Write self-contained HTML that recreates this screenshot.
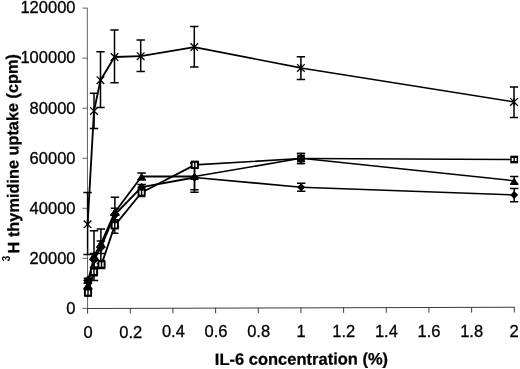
<!DOCTYPE html>
<html><head><meta charset="utf-8"><title>chart</title>
<style>html,body{margin:0;padding:0;background:#fff}svg{display:block}</style></head>
<body><svg width="520" height="369" viewBox="0 0 520 369">
<rect width="520" height="369" fill="#fff"/>
<path d="M87.30,8.1L87.6,308.4" fill="none" stroke="#505050" stroke-width="0.9"/>
<path d="M87.2,308.4L514.4,307.30" fill="none" stroke="#3c3c3c" stroke-width="1.05"/>
<path d="M82.4,8.10H87.60" stroke="#505050" stroke-width="0.9"/>
<path d="M82.4,58.15H87.65" stroke="#505050" stroke-width="0.9"/>
<path d="M82.4,108.20H87.70" stroke="#505050" stroke-width="0.9"/>
<path d="M82.4,158.25H87.75" stroke="#505050" stroke-width="0.9"/>
<path d="M82.4,208.30H87.80" stroke="#505050" stroke-width="0.9"/>
<path d="M82.4,258.35H87.85" stroke="#505050" stroke-width="0.9"/>
<path d="M82.4,308.40H87.90" stroke="#505050" stroke-width="0.9"/>
<path d="M87.60,308.10V313.60" stroke="#3c3c3c" stroke-width="1"/>
<path d="M130.27,307.99V313.49" stroke="#3c3c3c" stroke-width="1"/>
<path d="M172.94,307.88V313.38" stroke="#3c3c3c" stroke-width="1"/>
<path d="M215.61,307.77V313.27" stroke="#3c3c3c" stroke-width="1"/>
<path d="M258.28,307.66V313.16" stroke="#3c3c3c" stroke-width="1"/>
<path d="M300.95,307.55V313.05" stroke="#3c3c3c" stroke-width="1"/>
<path d="M343.62,307.44V312.94" stroke="#3c3c3c" stroke-width="1"/>
<path d="M386.29,307.33V312.83" stroke="#3c3c3c" stroke-width="1"/>
<path d="M428.96,307.22V312.72" stroke="#3c3c3c" stroke-width="1"/>
<path d="M471.63,307.11V312.61" stroke="#3c3c3c" stroke-width="1"/>
<path d="M514.30,307.00V312.50" stroke="#3c3c3c" stroke-width="1"/>
<path d="M87.6,224.3L94.0,111.0" fill="none" stroke="#000" stroke-width="1.85" stroke-linecap="round"/>
<path d="M94.0,111.0L100.5,80.2" fill="none" stroke="#000" stroke-width="1.85" stroke-linecap="round"/>
<path d="M100.5,80.2L114.5,57.0" fill="none" stroke="#000" stroke-width="1.85" stroke-linecap="round"/>
<path d="M114.5,57.0L140.7,56.2" fill="none" stroke="#000" stroke-width="1.85" stroke-linecap="round"/>
<path d="M140.7,56.2L194.3,47.1" fill="none" stroke="#000" stroke-width="1.85" stroke-linecap="round"/>
<path d="M194.3,47.1L300.9,67.9" fill="none" stroke="#000" stroke-width="1.65" stroke-linecap="round"/>
<path d="M300.9,67.9L514.0,101.9" fill="none" stroke="#000" stroke-width="1.5" stroke-linecap="round"/>
<path d="M88.0,292.5L94.0,271.8" fill="none" stroke="#000" stroke-width="1.85" stroke-linecap="round"/>
<path d="M94.0,271.8L101.5,264.5" fill="none" stroke="#000" stroke-width="1.85" stroke-linecap="round"/>
<path d="M101.5,264.5L114.8,225.4" fill="none" stroke="#000" stroke-width="1.85" stroke-linecap="round"/>
<path d="M114.8,225.4L141.6,192.5" fill="none" stroke="#000" stroke-width="1.85" stroke-linecap="round"/>
<path d="M141.6,192.5L194.8,164.9" fill="none" stroke="#000" stroke-width="1.85" stroke-linecap="round"/>
<path d="M194.8,164.9L301.0,158.5" fill="none" stroke="#000" stroke-width="1.65" stroke-linecap="round"/>
<path d="M301.0,158.5L514.2,159.5" fill="none" stroke="#000" stroke-width="1.5" stroke-linecap="round"/>
<path d="M87.9,285.8L94.0,256.0" fill="none" stroke="#000" stroke-width="1.85" stroke-linecap="round"/>
<path d="M94.0,256.0L100.9,243.8" fill="none" stroke="#000" stroke-width="1.85" stroke-linecap="round"/>
<path d="M100.9,243.8L114.9,212.2" fill="none" stroke="#000" stroke-width="1.85" stroke-linecap="round"/>
<path d="M114.9,212.2L141.6,176.5" fill="none" stroke="#000" stroke-width="1.85" stroke-linecap="round"/>
<path d="M141.6,176.5L194.5,176.5" fill="none" stroke="#000" stroke-width="1.85" stroke-linecap="round"/>
<path d="M194.5,176.5L301.0,158.3" fill="none" stroke="#000" stroke-width="1.65" stroke-linecap="round"/>
<path d="M301.0,158.3L514.2,180.8" fill="none" stroke="#000" stroke-width="1.5" stroke-linecap="round"/>
<path d="M87.9,280.4L94.0,259.8" fill="none" stroke="#000" stroke-width="1.85" stroke-linecap="round"/>
<path d="M94.0,259.8L100.9,247.2" fill="none" stroke="#000" stroke-width="1.85" stroke-linecap="round"/>
<path d="M100.9,247.2L114.9,214.5" fill="none" stroke="#000" stroke-width="1.85" stroke-linecap="round"/>
<path d="M114.9,214.5L141.6,187.2" fill="none" stroke="#000" stroke-width="1.85" stroke-linecap="round"/>
<path d="M141.6,187.2L194.5,177.5" fill="none" stroke="#000" stroke-width="1.85" stroke-linecap="round"/>
<path d="M194.5,177.5L301.2,187.2" fill="none" stroke="#000" stroke-width="1.65" stroke-linecap="round"/>
<path d="M301.2,187.2L514.2,195.0" fill="none" stroke="#000" stroke-width="1.5" stroke-linecap="round"/>
<path d="M87.6,192.6V254.6M83.4,192.6H91.8M83.4,254.6H91.8" stroke="#000" stroke-width="1.5" fill="none"/>
<path d="M94.0,93.2V128.5M89.8,93.2H98.2M89.8,128.5H98.2" stroke="#000" stroke-width="1.5" fill="none"/>
<path d="M100.5,51.8V107.6M96.3,51.8H104.7M96.3,107.6H104.7" stroke="#000" stroke-width="1.5" fill="none"/>
<path d="M114.5,30.0V82.7M110.3,30.0H118.7M110.3,82.7H118.7" stroke="#000" stroke-width="1.5" fill="none"/>
<path d="M140.7,40.0V71.5M136.5,40.0H144.9M136.5,71.5H144.9" stroke="#000" stroke-width="1.5" fill="none"/>
<path d="M194.3,26.6V66.9M190.1,26.6H198.5M190.1,66.9H198.5" stroke="#000" stroke-width="1.5" fill="none"/>
<path d="M300.9,56.7V79.4M296.7,56.7H305.1M296.7,79.4H305.1" stroke="#000" stroke-width="1.5" fill="none"/>
<path d="M514.0,86.9V117.6M509.8,86.9H518.2M509.8,117.6H518.2" stroke="#000" stroke-width="1.5" fill="none"/>
<path d="M87.9,283.3V288.2M83.7,283.3H92.1M83.7,288.2H92.1" stroke="#000" stroke-width="1.5" fill="none"/>
<path d="M94.0,230.8V280.5M89.8,230.8H98.2M89.8,280.5H98.2" stroke="#000" stroke-width="1.5" fill="none"/>
<path d="M100.9,229.0V263.5M96.7,229.0H105.1M96.7,263.5H105.1" stroke="#000" stroke-width="1.5" fill="none"/>
<path d="M114.9,197.3V227.0M110.7,197.3H119.1M110.7,227.0H119.1" stroke="#000" stroke-width="1.5" fill="none"/>
<path d="M141.6,172.9V180.0M137.4,172.9H145.8M137.4,180.0H145.8" stroke="#000" stroke-width="1.5" fill="none"/>
<path d="M194.5,163.0V189.8M190.3,163.0H198.7M190.3,189.8H198.7" stroke="#000" stroke-width="1.5" fill="none"/>
<path d="M301.0,153.4V163.6M296.8,153.4H305.2M296.8,163.6H305.2" stroke="#000" stroke-width="1.5" fill="none"/>
<path d="M514.2,176.6V184.2M510.0,176.6H518.4M510.0,184.2H518.4" stroke="#000" stroke-width="1.5" fill="none"/>
<path d="M87.9,278.3V283.0M83.7,278.3H92.1M83.7,283.0H92.1" stroke="#000" stroke-width="1.5" fill="none"/>
<path d="M94.0,253.5V267.0M89.8,253.5H98.2M89.8,267.0H98.2" stroke="#000" stroke-width="1.5" fill="none"/>
<path d="M100.9,241.0V253.5M96.7,241.0H105.1M96.7,253.5H105.1" stroke="#000" stroke-width="1.5" fill="none"/>
<path d="M114.9,208.3V221.0M110.7,208.3H119.1M110.7,221.0H119.1" stroke="#000" stroke-width="1.5" fill="none"/>
<path d="M141.6,184.5V190.0M137.4,184.5H145.8M137.4,190.0H145.8" stroke="#000" stroke-width="1.5" fill="none"/>
<path d="M194.5,163.0V192.2M190.3,163.0H198.7M190.3,192.2H198.7" stroke="#000" stroke-width="1.5" fill="none"/>
<path d="M301.2,183.2V191.2M297.0,183.2H305.4M297.0,191.2H305.4" stroke="#000" stroke-width="1.5" fill="none"/>
<path d="M514.2,188.4V201.8M510.0,188.4H518.4M510.0,201.8H518.4" stroke="#000" stroke-width="1.5" fill="none"/>
<path d="M83.8,220.5L91.39999999999999,228.10000000000002M83.8,228.10000000000002L91.39999999999999,220.5M87.6,220.5V228.10000000000002" stroke="#000" stroke-width="1.3" fill="none"/>
<path d="M90.2,107.2L97.8,114.8M90.2,114.8L97.8,107.2M94,107.2V114.8" stroke="#000" stroke-width="1.3" fill="none"/>
<path d="M96.7,76.4L104.3,84.0M96.7,84.0L104.3,76.4M100.5,76.4V84.0" stroke="#000" stroke-width="1.3" fill="none"/>
<path d="M110.7,53.2L118.3,60.8M110.7,60.8L118.3,53.2M114.5,53.2V60.8" stroke="#000" stroke-width="1.3" fill="none"/>
<path d="M136.89999999999998,52.400000000000006L144.5,60.0M136.89999999999998,60.0L144.5,52.400000000000006M140.7,52.400000000000006V60.0" stroke="#000" stroke-width="1.3" fill="none"/>
<path d="M190.5,43.300000000000004L198.10000000000002,50.9M190.5,50.9L198.10000000000002,43.300000000000004M194.3,43.300000000000004V50.9" stroke="#000" stroke-width="1.3" fill="none"/>
<path d="M297.09999999999997,64.10000000000001L304.7,71.7M297.09999999999997,71.7L304.7,64.10000000000001M300.9,64.10000000000001V71.7" stroke="#000" stroke-width="1.3" fill="none"/>
<path d="M510.2,98.10000000000001L517.8,105.7M510.2,105.7L517.8,98.10000000000001M514.0,98.10000000000001V105.7" stroke="#000" stroke-width="1.3" fill="none"/>
<rect x="84.90" y="289.40" width="6.20" height="6.20" fill="#fff" stroke="#000" stroke-width="1.9"/>
<rect x="90.90" y="268.70" width="6.20" height="6.20" fill="#fff" stroke="#000" stroke-width="1.9"/>
<rect x="98.40" y="261.40" width="6.20" height="6.20" fill="#fff" stroke="#000" stroke-width="1.9"/>
<rect x="111.70" y="222.30" width="6.20" height="6.20" fill="#fff" stroke="#000" stroke-width="1.9"/>
<rect x="138.50" y="189.40" width="6.20" height="6.20" fill="#fff" stroke="#000" stroke-width="1.9"/>
<rect x="191.70" y="161.80" width="6.20" height="6.20" fill="#fff" stroke="#000" stroke-width="1.9"/>
<rect x="298.35" y="155.85" width="5.30" height="5.30" fill="#fff" stroke="#000" stroke-width="2.4"/>
<rect x="511.05" y="156.35" width="6.30" height="6.30" fill="#fff" stroke="#000" stroke-width="1.4"/>
<path d="M88.0,289.5V296.0M84.4,289.5H91.6M84.4,296.0H91.6" stroke="#000" stroke-width="1.4" fill="none"/>
<path d="M94.0,268.0V275.8M90.4,268.0H97.6M90.4,275.8H97.6" stroke="#000" stroke-width="1.4" fill="none"/>
<path d="M101.5,260.5V268.5M97.9,260.5H105.1M97.9,268.5H105.1" stroke="#000" stroke-width="1.4" fill="none"/>
<path d="M114.8,219.8V233.2M111.2,219.8H118.4M111.2,233.2H118.4" stroke="#000" stroke-width="1.4" fill="none"/>
<path d="M141.6,188.5V196.5M138.0,188.5H145.2M138.0,196.5H145.2" stroke="#000" stroke-width="1.4" fill="none"/>
<path d="M194.8,161.5V168.3M191.2,161.5H198.4M191.2,168.3H198.4" stroke="#000" stroke-width="1.4" fill="none"/>
<path d="M301.0,153.4V163.6M297.4,153.4H304.6M297.4,163.6H304.6" stroke="#000" stroke-width="1.4" fill="none"/>
<path d="M514.2,157.3V161.7M510.6,157.3H517.8M510.6,161.7H517.8" stroke="#000" stroke-width="1.4" fill="none"/>
<path d="M87.9,282.15L92.29,289.24H83.51Z" fill="#000" stroke="#000" stroke-width="0.9" stroke-linejoin="round"/>
<path d="M94,252.34L98.39,259.44H89.61Z" fill="#000" stroke="#000" stroke-width="0.9" stroke-linejoin="round"/>
<path d="M100.9,240.15L105.29,247.24H96.51Z" fill="#000" stroke="#000" stroke-width="0.9" stroke-linejoin="round"/>
<path d="M114.9,208.54L119.29,215.64H110.51Z" fill="#000" stroke="#000" stroke-width="0.9" stroke-linejoin="round"/>
<path d="M141.6,172.84L145.99,179.94H137.21Z" fill="#000"/>
<path d="M194.5,172.84L198.89,179.94H190.11Z" fill="#000"/>
<path d="M301,154.90L305.08,161.50H296.92Z" fill="#000"/>
<path d="M514.2,177.40L518.28,184.00H510.12Z" fill="#000"/>
<path d="M87.9,276.09999999999997L92.2,280.4L87.9,284.7L83.60000000000001,280.4Z" fill="#000" stroke="#000" stroke-width="0.9" stroke-linejoin="round"/>
<path d="M94,255.5L98.3,259.8L94,264.1L89.7,259.8Z" fill="#000" stroke="#000" stroke-width="0.9" stroke-linejoin="round"/>
<path d="M100.9,242.89999999999998L105.2,247.2L100.9,251.5L96.60000000000001,247.2Z" fill="#000" stroke="#000" stroke-width="0.9" stroke-linejoin="round"/>
<path d="M114.9,210.2L119.2,214.5L114.9,218.8L110.60000000000001,214.5Z" fill="#000" stroke="#000" stroke-width="0.9" stroke-linejoin="round"/>
<path d="M141.6,182.89999999999998L145.9,187.2L141.6,191.5L137.29999999999998,187.2Z" fill="#000"/>
<path d="M194.5,173.2L198.8,177.5L194.5,181.8L190.2,177.5Z" fill="#000"/>
<path d="M301.2,183.2L305.2,187.2L301.2,191.2L297.2,187.2Z" fill="#000"/>
<path d="M514.2,191L518.2,195L514.2,199L510.20000000000005,195Z" fill="#000"/>
<text x="75.5" y="13.4" text-anchor="end" font-family="Liberation Sans, Arial, sans-serif" font-size="16.5" fill="#000" stroke="#000" stroke-width="0.3">120000</text>
<text x="75.5" y="63.4" text-anchor="end" font-family="Liberation Sans, Arial, sans-serif" font-size="16.5" fill="#000" stroke="#000" stroke-width="0.3">100000</text>
<text x="75.5" y="113.5" text-anchor="end" font-family="Liberation Sans, Arial, sans-serif" font-size="16.5" fill="#000" stroke="#000" stroke-width="0.3">80000</text>
<text x="75.5" y="163.5" text-anchor="end" font-family="Liberation Sans, Arial, sans-serif" font-size="16.5" fill="#000" stroke="#000" stroke-width="0.3">60000</text>
<text x="75.5" y="213.6" text-anchor="end" font-family="Liberation Sans, Arial, sans-serif" font-size="16.5" fill="#000" stroke="#000" stroke-width="0.3">40000</text>
<text x="75.5" y="263.7" text-anchor="end" font-family="Liberation Sans, Arial, sans-serif" font-size="16.5" fill="#000" stroke="#000" stroke-width="0.3">20000</text>
<text x="75.5" y="313.7" text-anchor="end" font-family="Liberation Sans, Arial, sans-serif" font-size="16.5" fill="#000" stroke="#000" stroke-width="0.3">0</text>
<text x="88.2" y="337.6" text-anchor="middle" font-family="Liberation Sans, Arial, sans-serif" font-size="16.5" fill="#000" stroke="#000" stroke-width="0.3">0</text>
<text x="130.8" y="337.5" text-anchor="middle" font-family="Liberation Sans, Arial, sans-serif" font-size="16.5" fill="#000" stroke="#000" stroke-width="0.3">0.2</text>
<text x="173.4" y="337.4" text-anchor="middle" font-family="Liberation Sans, Arial, sans-serif" font-size="16.5" fill="#000" stroke="#000" stroke-width="0.3">0.4</text>
<text x="216.0" y="337.3" text-anchor="middle" font-family="Liberation Sans, Arial, sans-serif" font-size="16.5" fill="#000" stroke="#000" stroke-width="0.3">0.6</text>
<text x="258.6" y="337.2" text-anchor="middle" font-family="Liberation Sans, Arial, sans-serif" font-size="16.5" fill="#000" stroke="#000" stroke-width="0.3">0.8</text>
<text x="301.2" y="337.1" text-anchor="middle" font-family="Liberation Sans, Arial, sans-serif" font-size="16.5" fill="#000" stroke="#000" stroke-width="0.3">1</text>
<text x="343.8" y="337.0" text-anchor="middle" font-family="Liberation Sans, Arial, sans-serif" font-size="16.5" fill="#000" stroke="#000" stroke-width="0.3">1.2</text>
<text x="386.4" y="336.9" text-anchor="middle" font-family="Liberation Sans, Arial, sans-serif" font-size="16.5" fill="#000" stroke="#000" stroke-width="0.3">1.4</text>
<text x="429.0" y="336.8" text-anchor="middle" font-family="Liberation Sans, Arial, sans-serif" font-size="16.5" fill="#000" stroke="#000" stroke-width="0.3">1.6</text>
<text x="471.6" y="336.7" text-anchor="middle" font-family="Liberation Sans, Arial, sans-serif" font-size="16.5" fill="#000" stroke="#000" stroke-width="0.3">1.8</text>
<text x="514.2" y="336.6" text-anchor="middle" font-family="Liberation Sans, Arial, sans-serif" font-size="16.5" fill="#000" stroke="#000" stroke-width="0.3">2</text>
<text x="301.5" y="364.7" transform="rotate(-0.15 301.5 364.7)" text-anchor="middle" font-family="Liberation Sans, Arial, sans-serif" font-size="16.5" font-weight="bold" fill="#000" stroke="#000" stroke-width="0.25">IL-6 concentration (%)</text>
<text transform="translate(19.3,253.4) rotate(-90.5)" font-family="Liberation Sans, Arial, sans-serif" font-size="16.32" font-weight="bold" fill="#000" stroke="#000" stroke-width="0.25">H thymidine uptake (cpm)</text>
<text transform="translate(10.3,261.4) rotate(-90)" font-family="Liberation Sans, Arial, sans-serif" font-size="10.5" font-weight="bold" fill="#000">3</text>
</svg></body></html>
